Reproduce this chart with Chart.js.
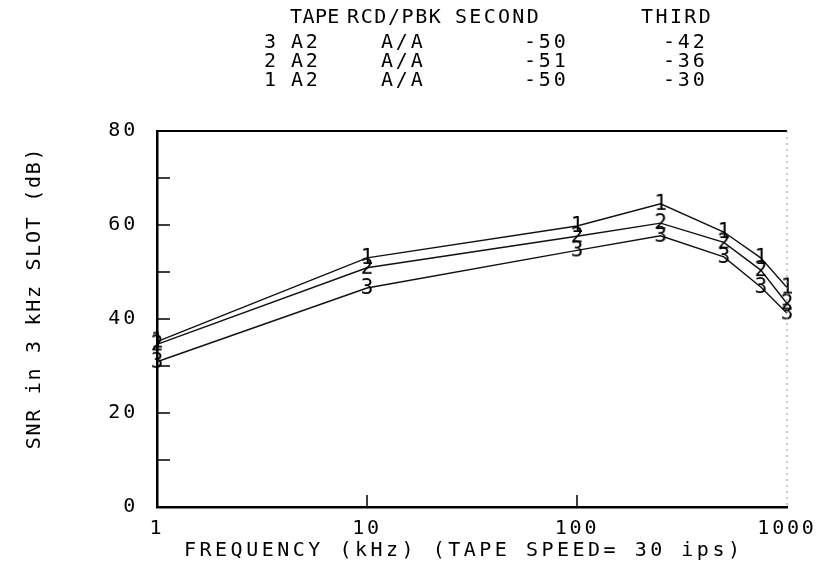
<!DOCTYPE html>
<html>
<head>
<meta charset="utf-8">
<script src="https://cdn.jsdelivr.net/npm/chart.js@4.4.1/dist/chart.umd.min.js"></script>
<style>
  html, body { margin: 0; padding: 0; background: #fff; }
  #wrap { width: 838px; height: 579px; }
</style>
</head>
<body>
<div id="wrap"><canvas id="snrChart" width="838" height="579"></canvas></div>
<script>
// data
const freqs = [1, 10, 100, 250, 500, 750, 1000];
const snr1 = [35.2, 53.0, 59.8, 64.5, 58.5, 53.0, 46.7];
const snr2 = [34.6, 50.9, 57.6, 60.4, 56.3, 50.4, 43.3];
const snr3 = [30.9, 46.6, 54.6, 57.7, 53.2, 46.8, 41.2];

// header table (top to bottom as printed)
const tableHead = ['TAPE', 'RCD/PBK', 'SECOND', 'THIRD'];
const tableIds = ['3', '2', '1'];
const tableTape = ['A2', 'A2', 'A2'];
const tableRcd = ['A/A', 'A/A', 'A/A'];
const tableSecond = ['-50', '-51', '-50'];
const tableThird = ['-42', '-36', '-30'];

const xTickValues = [1, 10, 100, 1000];
const yTickValues = [0, 20, 40, 60, 80];
const xTitle = 'FREQUENCY (kHz) (TAPE SPEED= 30 ips)';
const yTitle = 'SNR in 3 kHz SLOT (dB)';

const FONT = 'DejaVu Sans Mono';
const SPACING = '2.8px';

// digit markers used as point styles
function digitMarker(d) {
    const c = document.createElement('canvas');
    c.width = 18; c.height = 24;
    const g = c.getContext('2d');
    g.fillStyle = '#000';
    g.font = '21px ' + FONT;
    g.textAlign = 'center';
    g.textBaseline = 'middle';
    g.fillText(d, 9, 13);
    return c;
}

// plotter-like wide lettering
const spacingPlugin = {
    id: 'spacing',
    beforeLayout(chart) { chart.ctx.letterSpacing = SPACING; },
    beforeDraw(chart) { chart.ctx.letterSpacing = SPACING; }
};

const textPlugin = {
    id: 'texts',
    afterDraw(chart) {
        const ctx = chart.ctx;
        ctx.save();
        ctx.fillStyle = '#000';
        ctx.font = '20px ' + FONT;
        ctx.textBaseline = 'middle';

        // header table
        ctx.textAlign = 'left';
        const headX = [290, 347, 455, 641];
        const headSp = ['0.4px', '1.6px', '2.3px', '2.4px'];
        tableHead.forEach((t, i) => {
            ctx.letterSpacing = headSp[i];
            ctx.fillText(t, headX[i], 18);
        });
        ctx.letterSpacing = SPACING;
        const rowY = [43, 62, 81];
        for (let r = 0; r < tableIds.length; r++) {
            ctx.fillText(tableIds[r], 264, rowY[r]);
            ctx.fillText(tableTape[r], 291, rowY[r]);
            ctx.fillText(tableRcd[r], 381, rowY[r]);
            ctx.fillText(tableSecond[r], 524, rowY[r]);
            ctx.fillText(tableThird[r], 663, rowY[r]);
        }

        // axis titles
        ctx.letterSpacing = '3.5px';
        ctx.textAlign = 'left';
        ctx.fillText(xTitle, 184, 551);

        ctx.letterSpacing = '1.7px';
        ctx.translate(35, 298);
        ctx.rotate(-Math.PI / 2);
        ctx.textAlign = 'center';
        ctx.fillText(yTitle, 0, 0);
        ctx.restore();
    }
};

// frame: top solid, right dotted, inward ticks
const framePlugin = {
    id: 'frame',
    afterDatasetsDraw(chart) {
        const {ctx, chartArea: a, scales: {x, y}} = chart;
        ctx.save();
        ctx.strokeStyle = '#000';
        ctx.lineWidth = 2;
        ctx.beginPath();
        ctx.moveTo(a.left, a.top);
        ctx.lineTo(a.right, a.top);
        ctx.stroke();

        ctx.strokeStyle = '#999';
        ctx.lineWidth = 1;
        ctx.setLineDash([2, 4]);
        ctx.beginPath();
        ctx.moveTo(a.right, a.top);
        ctx.lineTo(a.right, a.bottom);
        ctx.stroke();
        ctx.setLineDash([]);

        ctx.strokeStyle = '#000';
        ctx.lineWidth = 1.5;
        ctx.beginPath();
        for (let v = 10; v < 80; v += 10) {
            const py = y.getPixelForValue(v);
            ctx.moveTo(a.left, py);
            ctx.lineTo(a.left + 13, py);
        }
        [10, 100].forEach(v => {
            const px = x.getPixelForValue(v);
            ctx.moveTo(px, a.bottom);
            ctx.lineTo(px, a.bottom - 12);
        });
        ctx.stroke();
        ctx.restore();
    }
};

function series(label, values, digit) {
    return {
        label: label,
        data: freqs.map((f, i) => ({x: f, y: values[i]})),
        borderColor: '#111',
        borderWidth: 1.4,
        tension: 0,
        fill: false,
        clip: false,
        pointStyle: digitMarker(digit),
        pointRadius: 8,
        pointHoverRadius: 8
    };
}

new Chart(document.getElementById('snrChart').getContext('2d'), {
    type: 'line',
    data: {
        datasets: [
            series('1', snr1, '1'),
            series('2', snr2, '2'),
            series('3', snr3, '3')
        ]
    },
    options: {
        responsive: false,
        animation: false,
        layout: { padding: { top: 131, right: 51, left: 0, bottom: 0 } },
        plugins: { legend: { display: false }, tooltip: { enabled: false } },
        scales: {
            x: {
                type: 'logarithmic',
                min: 1,
                max: 1000,
                afterBuildTicks(scale) {
                    scale.ticks = xTickValues.map(v => ({value: v}));
                },
                afterFit(scale) { scale.height = 72; },
                grid: { display: false, drawTicks: false },
                border: { display: true, color: '#000', width: 2.5 },
                ticks: {
                    color: '#000',
                    font: { family: FONT, size: 20 },
                    padding: 10,
                    maxRotation: 0,
                    autoSkip: false,
                    callback: v => String(v)
                },
                title: { display: false }
            },
            y: {
                min: 0,
                max: 80,
                afterBuildTicks(scale) {
                    scale.ticks = yTickValues.map(v => ({value: v}));
                },
                afterFit(scale) { scale.width = 157; },
                grid: { display: false, drawTicks: false },
                border: { display: true, color: '#000', width: 2.5 },
                ticks: {
                    color: '#000',
                    font: { family: FONT, size: 20 },
                    padding: 19
                },
                title: { display: false }
            }
        }
    },
    plugins: [spacingPlugin, framePlugin, textPlugin]
});
</script>
</body>
</html>
